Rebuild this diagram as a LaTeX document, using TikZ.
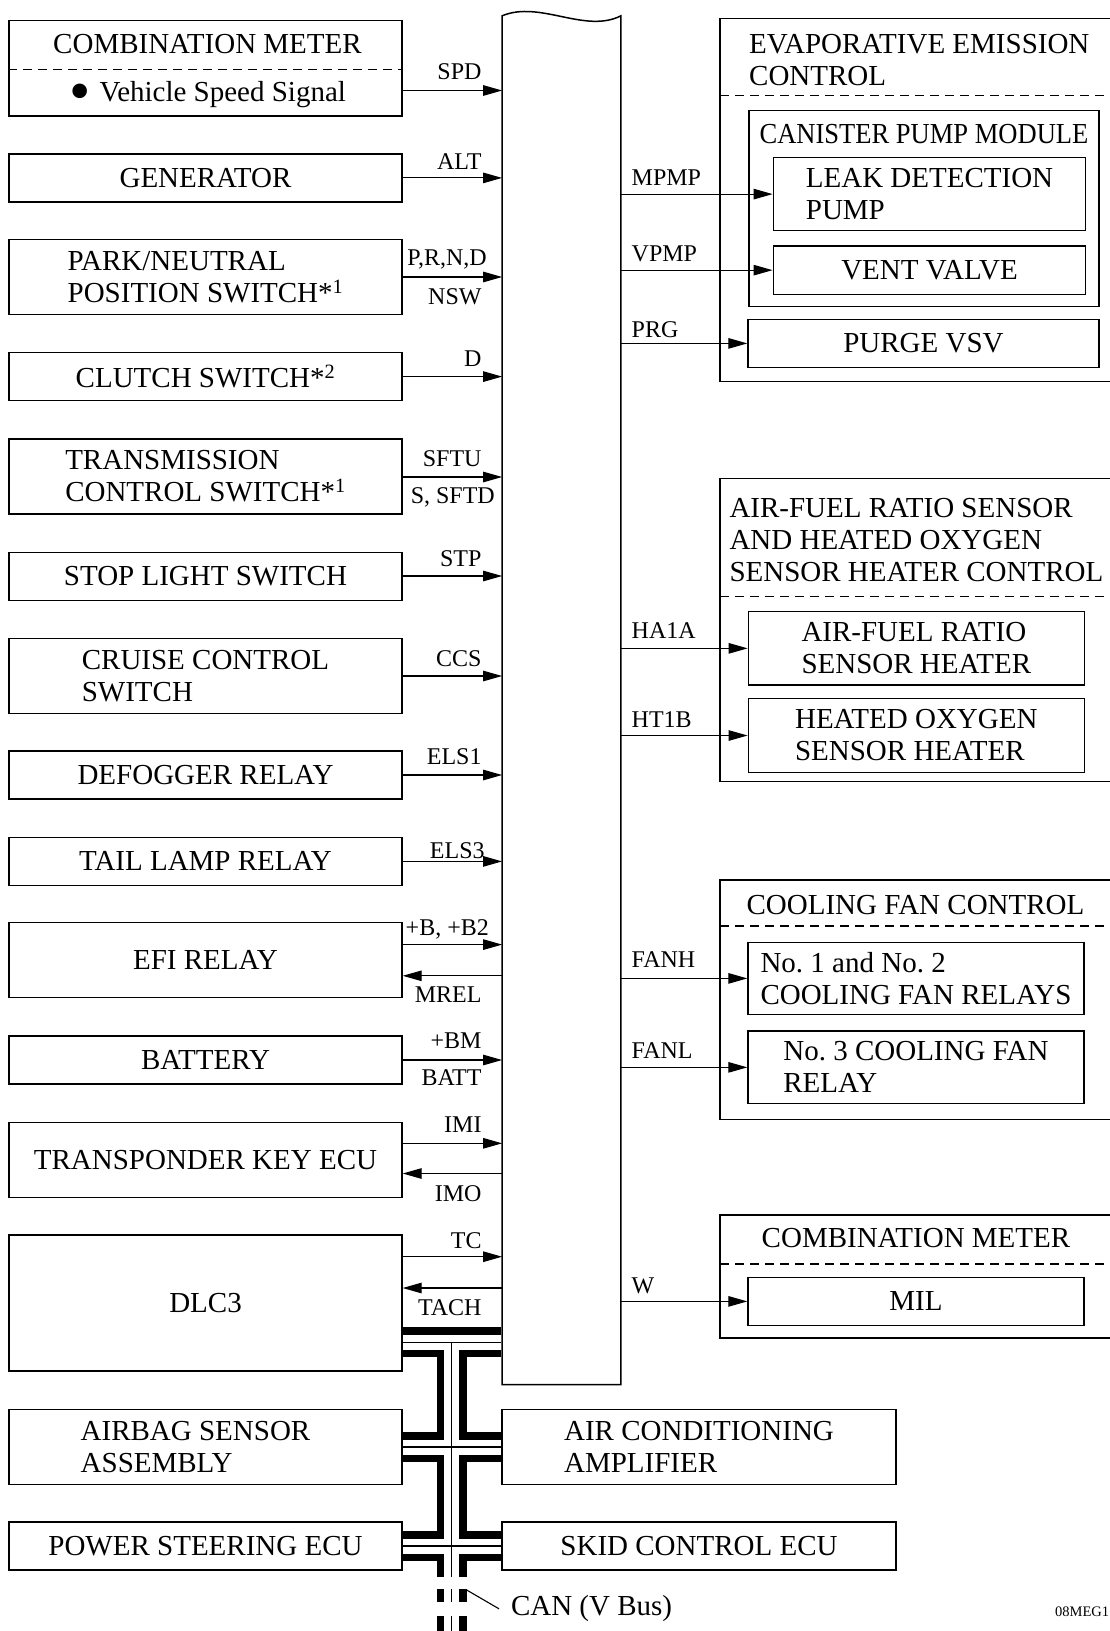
\documentclass[tikz,border=0pt]{standalone}
\usepackage{fontspec}
\setmainfont{Liberation Serif}
\usetikzlibrary{arrows.meta}
\frenchspacing

\begin{document}
\begin{tikzpicture}[x=1pt,y=-1pt,
  box/.style={draw, line width=1.4pt, inner sep=0pt, font=\fontsize{29}{32}\selectfont},
  sbox/.style={box, minimum width=393pt, minimum height=48pt},
  dbox/.style={box, minimum width=393pt, minimum height=75pt, align=left},
  rbox/.style={box, minimum width=336pt, align=left},
  grp/.style={line width=1.4pt},
  sep/.style={line width=1.1pt, dash pattern=on 9pt off 6pt},
  sig/.style={line width=1.1pt, -{Triangle[length=19pt,width=10.5pt]}},
  lbl/.style={inner sep=0pt, font=\fontsize{24}{26}\selectfont},
  ttl/.style={inner sep=0pt, align=left, font=\fontsize{29}{32}\selectfont}]

\useasboundingbox (0,0) rectangle (1110,1631);
\clip (0,0) rectangle (1110,1631);

%ECU:
\node[minimum width=118.4pt, minimum height=1368.5pt, inner sep=0pt] (ecu) at (561.5,700.25) {};
\draw[line width=1.5pt] (ecu.south west) -- (ecu.north west)
  .. controls (540,0) and (585,34) .. (ecu.north east) -- (ecu.south east) -- cycle;

%inputs:
\node[box, minimum width=393pt, minimum height=95.3pt] (cml) at (205.5,68.35) {};
\node[ttl] (cmlt) at (207.5,44) {COMBINATION METER};
\node[ttl, anchor=base west] (vss) at (69,101.5)
  {\raisebox{-10pt}{\scalebox{2.1}{\textbullet}}\hspace{9pt}Vehicle Speed Signal};
\draw[sep] (cml.west |- 0,69.5) -- (cml.east |- 0,69.5);
\node[sbox] (gen) at (205.5,177.9) {GENERATOR};
\node[dbox] (pnp) at (205.5,277.25) {PARK/NEUTRAL\\POSITION SWITCH*\textsuperscript{1}};
\node[sbox] (clu) at (205.5,376.6) {CLUTCH SWITCH*\textsuperscript{2}};
\node[dbox] (tcs) at (205.5,476.5) {TRANSMISSION\\CONTROL SWITCH*\textsuperscript{1}};
\node[sbox] (stp) at (205.5,576.35) {STOP LIGHT SWITCH};
\node[dbox] (ccs) at (205.5,676.15) {CRUISE CONTROL\\SWITCH};
\node[sbox] (def) at (205.5,775) {DEFOGGER RELAY};
\node[sbox] (tail) at (205.5,861.35) {TAIL LAMP RELAY};
\node[dbox, align=center] (efi) at (205.5,960.15) {EFI RELAY};
\node[sbox] (bat) at (205.5,1060) {BATTERY};
\node[dbox, align=center] (imm) at (205.5,1160.2) {TRANSPONDER KEY ECU};
\node[sbox, minimum height=136pt] (dlc) at (205.5,1303) {DLC3};
\node[dbox] (abg) at (205.5,1447) {AIRBAG SENSOR\rule{20pt}{0pt}\\ASSEMBLY};
\node[sbox] (eps) at (205.5,1546) {POWER STEERING ECU};
\node[dbox, minimum width=394pt] (ac) at (699,1447) {AIR CONDITIONING\\AMPLIFIER};
\node[sbox, minimum width=394pt] (skid) at (699,1546) {SKID CONTROL ECU};

\foreach \n/\y in {cml/90.5, gen/177.9, pnp/277, clu/376.6, tcs/477, stp/576,
  ccs/676, def/775, tail/861.4, efi/944.6, bat/1060, imm/1143.3, dlc/1256.7}
  \draw[sig] (\n.east |- 0,\y) -- (ecu.west |- 0,\y);
\foreach \n/\y in {efi/975.8, imm/1173.5, dlc/1288}
  \draw[sig] (ecu.west |- 0,\y) -- (\n.east |- 0,\y);

\foreach \n/\t/\x/\y in {spd/SPD/481.7/72, alt/ALT/481.7/161.2, prnd/{P,R,N,D}/487/259,
  nsw/NSW/481.7/297, d/D/481.7/359, sftu/SFTU/481.7/458.8, sftd/{S, SFTD}/495/497.3,
  stp/STP/481.7/558.6, ccs/CCS/481.7/658.5, els1/ELS1/481.7/756.3, els3/ELS3/484.8/851,
  pb/{+B, +B2}/489/929, mrel/MREL/481.7/995, pbm/+BM/481.7/1040.3, batt/BATT/481.7/1077.8,
  imi/IMI/481.7/1124.6, imo/IMO/481.7/1194, tc/TC/481.7/1240.5, tach/TACH/481.7/1307.8}
  \node[lbl, anchor=east] (l\n) at (\x,\y) {\t};

%evaporative emission control:
\draw[grp] (720,18.7) rectangle (1130,381.3);
\node[ttl, anchor=west] (evapt) at (749,59.8) {EVAPORATIVE EMISSION\\CONTROL};
\draw[sep] (720,95.7) -- (1110,95.7);
\node[box, minimum width=350pt, minimum height=196pt] (cpm) at (924,208.4) {};
\node[ttl] (cpmt) at (924,134) {\scalebox{0.915}[1]{CANISTER PUMP MODULE}};
\node[rbox, minimum width=312.4pt, minimum height=73.2pt] (ldp) at (929.5,194.1) {LEAK DETECTION\\PUMP};
\node[rbox, minimum width=312.4pt, minimum height=48.3pt] (vent) at (929.5,270.15) {VENT VALVE};
\node[rbox, minimum width=351pt, minimum height=47.8pt] (purge) at (923.5,343.4) {PURGE VSV};

%air-fuel ratio sensor:
\draw[grp] (720,478.5) rectangle (1130,781.5);
\node[ttl, anchor=west] (afrt) at (729.3,540) {AIR-FUEL RATIO SENSOR\\AND HEATED OXYGEN\\SENSOR HEATER CONTROL};
\draw[sep] (720,596.7) -- (1110,596.7);
\node[rbox, minimum height=73.3pt] (afs) at (916.3,648.35) {AIR-FUEL RATIO\\SENSOR HEATER};
\node[rbox, minimum height=74.4pt] (ho2) at (916.3,735.5) {HEATED OXYGEN\\SENSOR HEATER};

%cooling fan:
\draw[grp] (720,880) rectangle (1130,1119.4);
\node[ttl] (fant) at (915.5,905) {COOLING FAN CONTROL};
\draw[sep] (720,926) -- (1110,926);
\node[rbox, minimum height=71.8pt] (fan12) at (916,978.4) {No. 1 and No. 2\\COOLING FAN RELAYS};
\node[rbox, minimum height=72.7pt] (fan3) at (916,1067.35) {No. 3 COOLING FAN\\RELAY};

%combination meter:
\draw[grp] (720,1215) rectangle (1130,1337.8);
\node[ttl] (cmrt) at (916,1238) {COMBINATION METER};
\draw[sep] (720,1264) -- (1110,1264);
\node[rbox, minimum height=47.8pt] (mil) at (916,1301.4) {MIL};

%outputs:
\foreach \n in {ldp, vent, purge, afs, ho2, fan12, fan3, mil}
  \draw[sig] (ecu.east |- \n.west) -- (\n.west);
\foreach \n/\t/\y in {mpmp/MPMP/178, vpmp/VPMP/254, prg/PRG/330, ha1a/HA1A/630.4,
  ht1b/HT1B/720, fanh/FANH/960, fanl/FANL/1050.7, w/W/1285.8}
  \node[lbl, anchor=west] (l\n) at (631.5,\y) {\t};

%CAN bus:
\foreach \w/\c in {30/black, 15/white, 1.5/black}{
  \draw[line width=\w pt, \c, shorten <=0.7pt, shorten >=0.7pt] (dlc.east |- 0,1342.3) -- (ecu.west |- 0,1342.3);
  \draw[line width=\w pt, \c] (451.7,1342.3) -- (451.7,1577);
  \draw[line width=\w pt, \c, shorten <=0.7pt, shorten >=0.7pt] (abg.east) -- (ac.west);
  \draw[line width=\w pt, \c, shorten <=0.7pt, shorten >=0.7pt] (eps.east) -- (skid.west);
  \draw[line width=\w pt, \c] (451.7,1589.3) -- (451.7,1601.7);
  \draw[line width=\w pt, \c] (451.7,1616) -- (451.7,1640);
}
\node[ttl, anchor=west] (can) at (510.8,1608.8) {CAN (V Bus)};
\coordinate (cantip) at (466.7,1590);
\draw[line width=1.1pt] (cantip) -- ([xshift=-11.8pt]can.west);

\node[inner sep=0pt, anchor=west, font=\fontsize{14.5}{16}\selectfont] (fig) at (1055,1611.7) {08MEG1};

\end{tikzpicture}
\end{document}
